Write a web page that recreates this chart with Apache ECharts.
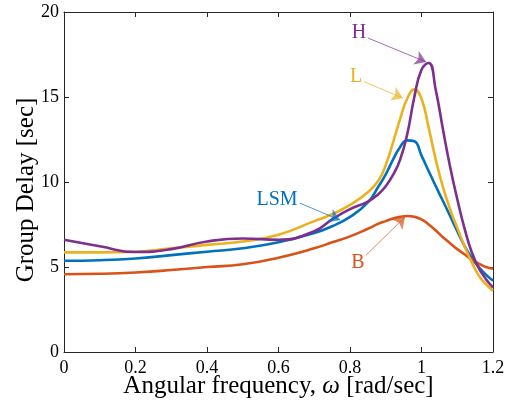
<!DOCTYPE html>
<html><head><meta charset="utf-8">
<script src="https://cdn.jsdelivr.net/npm/echarts@6/dist/echarts.min.js"></script>
<style>html,body{margin:0;padding:0;background:#fff;overflow:hidden}#c{width:515px;height:403px}</style>
</head><body><div id="c"></div>
<script>
var freq = [0, 0.1, 0.2, 0.3, 0.4, 0.5, 0.6, 0.7, 0.75, 0.8, 0.85, 0.88, 0.9, 0.92, 0.94, 0.96, 0.98, 1.0, 1.02, 1.04, 1.06, 1.08, 1.1, 1.12, 1.14, 1.16, 1.18, 1.2];
var delayLSM = [5.37, 5.4, 5.5, 5.7, 5.9, 6.1, 6.45, 7.0, 7.4, 7.95, 8.8, 9.75, 10.45, 11.3, 12.05, 12.45, 12.4, 11.55, 10.65, 9.75, 8.88, 8.0, 7.1, 6.25, 5.55, 5.0, 4.55, 4.2];
var delayB = [4.57, 4.6, 4.68, 4.82, 5.0, 5.16, 5.55, 6.1, 6.45, 6.8, 7.25, 7.55, 7.7, 7.85, 7.95, 8.0, 7.95, 7.8, 7.5, 7.15, 6.75, 6.4, 6.05, 5.75, 5.45, 5.2, 5.0, 4.9];
var delayL = [5.86, 5.86, 5.9, 6.1, 6.3, 6.5, 6.9, 7.7, 8.1, 8.65, 9.4, 10.1, 11.0, 12.3, 13.7, 14.9, 15.45, 14.9, 13.2, 11.3, 9.7, 8.4, 7.3, 6.25, 5.3, 4.5, 4.0, 3.6];
var delayH = [6.6, 6.22, 5.88, 6.05, 6.5, 6.68, 6.6, 7.1, 7.8, 8.4, 8.85, 9.3, 9.75, 10.4, 11.3, 12.8, 15.0, 16.6, 17.0, 15.4, 13.1, 10.9, 9.0, 7.3, 5.9, 4.95, 4.3, 3.8];
var xTicks = [0, 0.2, 0.4, 0.6, 0.8, 1, 1.2];
var yTicks = [0, 5, 10, 15, 20];
var names = ['LSM', 'B', 'L', 'H'];
var colors = ['#0072BD', '#D95319', '#EDB120', '#7E2F8E'];
// annotation [label pos, arrow start, arrow end] in data units
var annLSM = [[0.596, 8.95], [0.66, 8.76], [0.772, 7.76]];
var annB = [[0.822, 5.25], [0.845, 5.7], [0.954, 7.94]];
var annL = [[0.817, 16.2], [0.839, 15.9], [0.948, 14.94]];
var annH = [[0.825, 18.76], [0.85, 18.47], [1.013, 17.06]];

var FONT = 'Liberation Serif';
function pairs(ys){ return freq.map(function(x,i){return [x, ys[i]];}); }
function mk(name, ys, color, ann){
  return {
    type:'line', name:name, data:pairs(ys), smooth:0.5, smoothConstraint:false, showSymbol:false, symbol:'none',
    lineStyle:{color:color, width:2.6}, itemStyle:{color:color}, z:3,
    markLine:{silent:true, animation:false, symbol:['none','arrow'], symbolSize:[0,11],
      lineStyle:{color:color, width:1, type:'solid', opacity:0.7},
      label:{show:false},
      data:[[{coord:ann[1], symbol:'none'},{coord:ann[2], symbol:'arrow', symbolSize:11, itemStyle:{color:color}}]]},
    markPoint:{silent:true, animation:false, symbol:'circle', symbolSize:1,
      itemStyle:{color:'rgba(0,0,0,0)'},
      label:{show:true, position:'inside', formatter:name, color:color, fontFamily:FONT, fontSize:20},
      data:[{coord:ann[0], value:name}]}
  };
}
var chart = echarts.init(document.getElementById('c'), null, {renderer:'canvas', width:515, height:403});
var axCol = '#262626';
chart.setOption({
  animation:false,
  backgroundColor:'#fff',
  grid:{left:64, width:429, top:12, height:340, containLabel:false, outerBoundsMode:'none'},
  xAxis:[{type:'value', min:0, max:1.2, interval:0.2,
    axisLine:{show:true, onZero:false, lineStyle:{color:axCol, width:1}},
    axisTick:{show:true, inside:true, length:5, lineStyle:{color:axCol}},
    splitLine:{show:false},
    axisLabel:{color:'#000', fontFamily:FONT, fontSize:18, margin:7,
      formatter:function(v){ var t = xTicks.filter(function(k){return Math.abs(k-v)<1e-9;}); return t.length? String(t[0]) : ''; }},
    name:'{a|Angular frequency, }{i|ω}{a| [rad/sec]}', nameLocation:'middle', nameGap:22, nameMoveOverlap:false,
    nameTextStyle:{rich:{a:{fontFamily:FONT, fontSize:25, color:'#000'}, i:{fontFamily:FONT, fontSize:25, fontStyle:'italic', color:'#000'}}}
  },{type:'value', position:'top', min:0, max:1.2, interval:0.2,
    axisLine:{show:true, onZero:false, lineStyle:{color:axCol, width:1}},
    axisTick:{show:true, inside:true, length:5, lineStyle:{color:axCol}},
    axisLabel:{show:false}, splitLine:{show:false}}],
  yAxis:[{type:'value', min:0, max:20, interval:5,
    axisLine:{show:true, onZero:false, lineStyle:{color:axCol, width:1}},
    axisTick:{show:true, inside:true, length:5, lineStyle:{color:axCol}},
    splitLine:{show:false},
    axisLabel:{color:'#000', fontFamily:FONT, fontSize:18, margin:5,
      formatter:function(v){ return yTicks.indexOf(v)>=0 ? String(v) : ''; }},
    name:'Group Delay [sec]', nameLocation:'middle', nameGap:25, nameMoveOverlap:false,
    nameTextStyle:{fontFamily:FONT, fontSize:25, color:'#000', padding:[0,16,0,0]}
  },{type:'value', position:'right', min:0, max:20, interval:5,
    axisLine:{show:true, onZero:false, lineStyle:{color:axCol, width:1}},
    axisTick:{show:true, inside:true, length:5, lineStyle:{color:axCol}},
    axisLabel:{show:false}, splitLine:{show:false}}],
  series:[
    mk(names[0], delayLSM, colors[0], annLSM),
    mk(names[1], delayB, colors[1], annB),
    mk(names[2], delayL, colors[2], annL),
    mk(names[3], delayH, colors[3], annH)
  ]
});
</script></body></html>
